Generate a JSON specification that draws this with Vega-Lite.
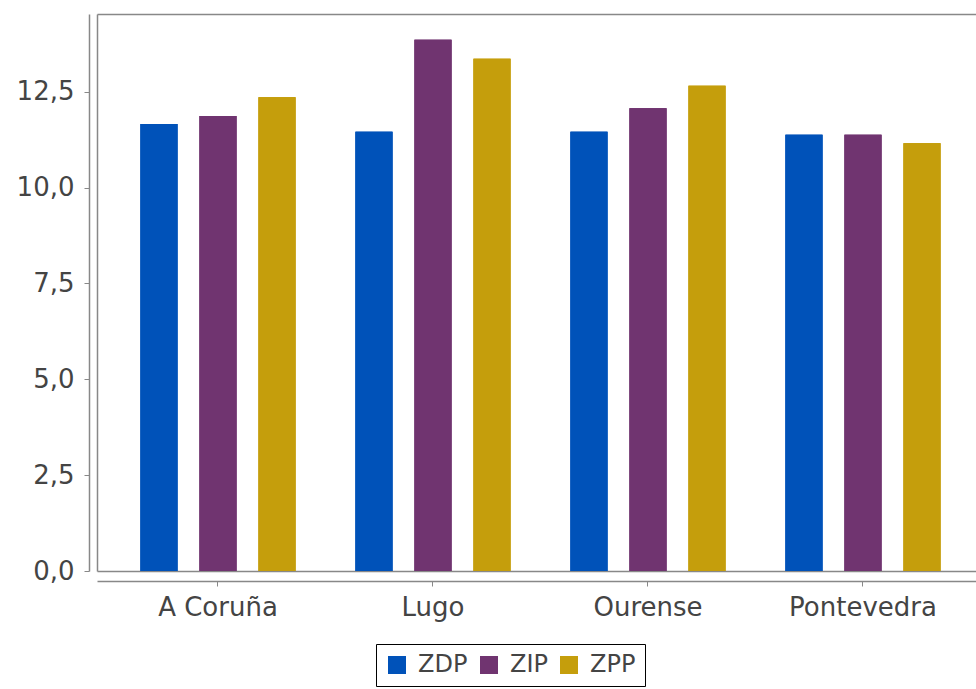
{
  "$schema": "https://vega.github.io/schema/vega-lite/v6.json",
  "autosize": {"type": "none"},
  "padding": {"left": 97, "top": 14, "right": 0, "bottom": 118},
  "width": 879,
  "height": 557,
  "background": "white",
  "data": {
    "values": [
      {"provincia": "A Coruña", "serie": "ZDP", "valor": 11.66},
      {"provincia": "A Coruña", "serie": "ZIP", "valor": 11.87},
      {"provincia": "A Coruña", "serie": "ZPP", "valor": 12.36},
      {"provincia": "Lugo", "serie": "ZDP", "valor": 11.46},
      {"provincia": "Lugo", "serie": "ZIP", "valor": 13.86},
      {"provincia": "Lugo", "serie": "ZPP", "valor": 13.36},
      {"provincia": "Ourense", "serie": "ZDP", "valor": 11.46},
      {"provincia": "Ourense", "serie": "ZIP", "valor": 12.07},
      {"provincia": "Ourense", "serie": "ZPP", "valor": 12.66},
      {"provincia": "Pontevedra", "serie": "ZDP", "valor": 11.38},
      {"provincia": "Pontevedra", "serie": "ZIP", "valor": 11.38},
      {"provincia": "Pontevedra", "serie": "ZPP", "valor": 11.16}
    ]
  },
  "encoding": {
    "x": {
      "field": "provincia",
      "type": "nominal",
      "sort": null,
      "title": null,
      "scale": {"paddingInner": 0, "paddingOuter": 0.0442, "align": 0.71}
    },
    "xOffset": {
      "field": "serie",
      "type": "nominal",
      "scale": {"paddingInner": 0.373, "paddingOuter": 0.508}
    },
    "y": {
      "field": "valor",
      "type": "quantitative",
      "title": null,
      "scale": {"domain": [0, 14.53], "nice": false, "zero": true}
    },
    "color": {
      "field": "serie",
      "type": "nominal",
      "title": null,
      "scale": {"domain": ["ZDP", "ZIP", "ZPP"], "range": ["#0052B9", "#703470", "#C59E0C"]},
      "legend": {
        "orient": "none",
        "legendX": 279,
        "legendY": 630,
        "direction": "horizontal",
        "strokeColor": "#000000",
        "padding": 9,
        "symbolType": "square",
        "symbolSize": 324,
        "symbolStrokeWidth": 0,
        "symbolOpacity": 1,
        "labelFont": "DejaVu Sans",
        "labelFontSize": 24,
        "labelColor": "#444444",
        "labelOffset": 9,
        "columnPadding": 9
      }
    }
  },
  "layer": [
    {
      "mark": {"type": "bar"},
      "encoding": {
        "x": {
          "field": "provincia",
          "type": "nominal",
          "sort": null,
          "title": null,
          "axis": {
            "orient": "bottom",
            "labelAngle": 0,
            "offset": 10,
            "domainColor": "#888888",
            "domainWidth": 1.5,
            "tickColor": "#888888",
            "tickSize": 5,
            "labelPadding": 8,
            "labelFont": "DejaVu Sans",
            "labelFontSize": 26,
            "labelColor": "#444444"
          }
        },
        "y": {
          "field": "valor",
          "type": "quantitative",
          "title": null,
          "axis": {
            "orient": "left",
            "values": [0, 2.5, 5, 7.5, 10, 12.5],
            "labelExpr": "replace(format(datum.value, '.1f'), '.', ',')",
            "grid": false,
            "offset": 8,
            "domainColor": "#888888",
            "domainWidth": 1.5,
            "tickColor": "#888888",
            "tickSize": 5,
            "labelPadding": 10,
            "labelFont": "DejaVu Sans",
            "labelFontSize": 26,
            "labelColor": "#444444"
          }
        }
      }
    },
    {
      "mark": {"type": "bar"},
      "encoding": {
        "x": {
          "field": "provincia",
          "type": "nominal",
          "sort": null,
          "title": null,
          "axis": {
            "orient": "top",
            "offset": 0,
            "labels": false,
            "ticks": false,
            "domainColor": "#888888",
            "domainWidth": 1.5
          }
        },
        "y": {
          "field": "valor",
          "type": "quantitative",
          "title": null,
          "axis": {
            "orient": "left",
            "offset": 0,
            "labels": false,
            "ticks": false,
            "grid": false,
            "domainColor": "#888888",
            "domainWidth": 1.5
          }
        }
      }
    },
    {
      "mark": {"type": "bar"},
      "encoding": {
        "x": {
          "field": "provincia",
          "type": "nominal",
          "sort": null,
          "title": null,
          "axis": {
            "orient": "bottom",
            "offset": 0,
            "labels": false,
            "ticks": false,
            "domainColor": "#888888",
            "domainWidth": 1.5
          }
        },
        "y": {
          "field": "valor",
          "type": "quantitative",
          "title": null,
          "axis": null
        }
      }
    }
  ],
  "resolve": {"axis": {"x": "independent", "y": "independent"}},
  "config": {
    "view": {"stroke": null},
    "axis": {"grid": false}
  }
}
